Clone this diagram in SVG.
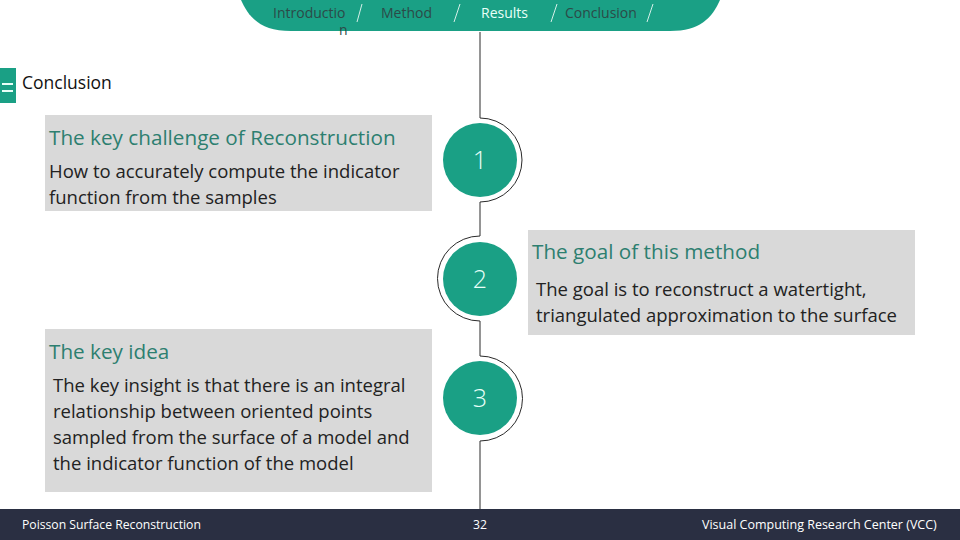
<svg xmlns="http://www.w3.org/2000/svg" width="960" height="540" viewBox="0 0 960 540">
<style>
text{font-family:"Open Sans","Noto Sans","Liberation Sans",sans-serif;fill:#222}
.teal{fill:#1aa085}
.box{fill:#d9d9d9}
.nav{font-size:14px;fill:#2c4a48}
.head{font-size:20.700px;fill:#2d7f70}
.body{font-size:18.500px;fill:#222}
.num{font-size:25px;font-weight:300;fill:#e8fff8;text-anchor:middle}
.foot{font-size:12.200px;fill:#fff}
.line{fill:none;stroke:#2a2a2a;stroke-width:1}
.sep{fill:none;stroke:#d5efe8;stroke-width:1}
</style>
<rect width="960" height="540" fill="#fff"/>
<g id="header">
<path class="teal" d="M241 0H720C712 18 700 31 670 31H291C261 31 249 18 241 0Z"/>
<text class="nav" x="273" y="18">Introductio</text>
<text class="nav" x="339" y="35">n</text>
<text class="nav" x="381" y="18">Method</text>
<text class="nav" x="481" y="18" style="fill:#e8fff8">Results</text>
<text class="nav" x="565" y="18">Conclusion</text>
<path class="sep" d="M362 4L357 22M460 4L454 22M557 4L551 22M653 4L647 22"/>
</g>
<g id="section-title">
<rect class="teal" x="0" y="68" width="16" height="35"/>
<path d="M2 84H13M2 91H13" stroke="#e8fff8" stroke-width="2"/>
<text x="22" y="89" font-size="17.500" style="fill:#111">Conclusion</text>
</g>
<g id="connectors">
<path class="line" d="M480 32V118A42 42 0 0 1 480 202V236A42.500 42.500 0 0 0 480 321V356A42.500 42.500 0 0 1 480 441V509"/>
</g>
<g id="node-1">
<circle class="teal" cx="480" cy="160" r="37"/>
<text class="num" x="480" y="169">1</text>
</g>
<g id="node-2">
<circle class="teal" cx="480" cy="279" r="37"/>
<text class="num" x="480" y="288">2</text>
</g>
<g id="node-3">
<circle class="teal" cx="480" cy="398" r="37"/>
<text class="num" x="480" y="407">3</text>
</g>
<g id="box-challenge">
<rect class="box" x="45" y="115" width="387" height="96"/>
<text class="head" x="49" y="145">The key challenge of Reconstruction</text>
<text class="body" x="49" y="178">How to accurately compute the indicator</text>
<text class="body" x="49" y="204">function from the samples</text>
</g>
<g id="box-goal">
<rect class="box" x="528" y="230" width="387" height="105"/>
<text class="head" x="532" y="259">The goal of this method</text>
<text class="body" x="536" y="296">The goal is to reconstruct a watertight,</text>
<text class="body" x="536" y="322">triangulated approximation to the surface</text>
</g>
<g id="box-idea">
<rect class="box" x="45" y="329" width="387" height="163"/>
<text class="head" x="49" y="359">The key idea</text>
<text class="body" x="53" y="392">The key insight is that there is an integral</text>
<text class="body" x="53" y="418">relationship between oriented points</text>
<text class="body" x="53" y="444">sampled from the surface of a model and</text>
<text class="body" x="53" y="470">the indicator function of the model</text>
</g>
<g id="footer">
<rect x="0" y="509" width="960" height="31" fill="#2a2f42"/>
<text class="foot" x="22" y="529">Poisson Surface Reconstruction</text>
<text class="foot" x="473" y="529">32</text>
<text class="foot" x="702" y="529" style="font-size:12.500px">Visual Computing Research Center (VCC)</text>
</g>
</svg>
